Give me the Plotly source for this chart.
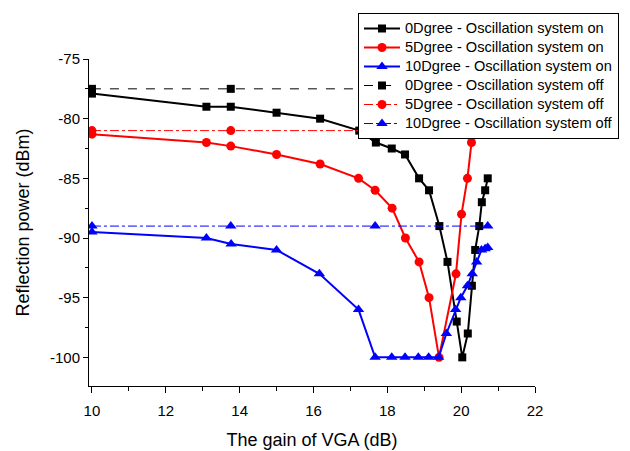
import plotly.graph_objects as go

# ---- data ----
x_on0 = [10, 13.1, 13.76, 15.0, 16.18, 17.24, 17.69, 18.12, 18.48, 18.86, 19.13, 19.41, 19.63, 19.88, 20.03, 20.18, 20.29, 20.38, 20.49, 20.56, 20.65, 20.72]
y_on0 = [-77.9, -79.0, -79.0, -79.5, -80.0, -81.0, -82.0, -82.5, -83.0, -85.0, -86.0, -89.0, -92.0, -97.0, -100.0, -98.0, -94.0, -91.0, -89.0, -87.0, -86.0, -85.0]

x_on5 = [10, 13.1, 13.76, 15.0, 16.18, 17.22, 17.67, 18.13, 18.49, 18.86, 19.13, 19.4, 19.86, 20.01, 20.17, 20.28]
y_on5 = [-81.3, -82.0, -82.3, -83.0, -83.8, -85.0, -86.0, -87.5, -90.0, -92.0, -95.0, -100.0, -93.0, -88.0, -85.0, -82.0]

x_on10 = [10, 13.1, 13.77, 15.0, 16.16, 17.22, 17.67, 18.12, 18.48, 18.84, 19.12, 19.39, 19.6, 19.85, 19.99, 20.17, 20.3, 20.42, 20.55, 20.65, 20.72]
y_on10 = [-89.5, -90.0, -90.5, -91.0, -93.0, -96.0, -100.0, -100.0, -100.0, -100.0, -100.0, -100.0, -98.0, -96.0, -95.0, -94.0, -93.0, -92.0, -91.0, -90.9, -90.8]

x_off = [10, 13.76, 17.67, 20.72]
y_off0 = [-77.5, -77.5, -77.5, -77.5]
y_off5 = [-81.0, -81.0, -81.0, -81.0]
y_off10 = [-89.0, -89.0, -89.0, -89.0]

names = [
    "0Dgree - Oscillation system on",
    "5Dgree - Oscillation system on",
    "10Dgree - Oscillation system on",
    "0Dgree - Oscillation system off",
    "5Dgree - Oscillation system off",
    "10Dgree - Oscillation system off",
]

x_tickvals = [10, 12, 14, 16, 18, 20, 22]
x_ticktext = ["10", "12", "14", "16", "18", "20", "22"]
y_tickvals = [-75, -80, -85, -90, -95, -100]
y_ticktext = ["-75", "-80", "-85", "-90", "-95", "-100"]

BLACK = "#000000"
RED = "#ff0000"
BLUE = "#0000ff"


def legend_name(s):
    return '<span style="font-size:14.6px">' + s + '</span>'


fig = go.Figure()
fig.add_trace(go.Scatter(x=x_on0, y=y_on0, name=legend_name(names[0]), mode="lines+markers",
                         line=dict(color=BLACK, width=2),
                         marker=dict(symbol="square", size=8, color=BLACK)))
fig.add_trace(go.Scatter(x=x_on5, y=y_on5, name=legend_name(names[1]), mode="lines+markers",
                         line=dict(color=RED, width=2),
                         marker=dict(symbol="circle", size=9, color=RED)))
fig.add_trace(go.Scatter(x=x_on10, y=y_on10, name=legend_name(names[2]), mode="lines+markers",
                         line=dict(color=BLUE, width=2),
                         marker=dict(symbol="triangle-up", size=10, color=BLUE)))
fig.add_trace(go.Scatter(x=x_off, y=y_off0, name=legend_name(names[3]), mode="lines+markers",
                         line=dict(color=BLACK, width=1, dash="dash"),
                         marker=dict(symbol="square", size=8, color=BLACK)))
fig.add_trace(go.Scatter(x=x_off, y=y_off5, name=legend_name(names[4]), mode="lines+markers",
                         line=dict(color=RED, width=1, dash="dashdot"),
                         marker=dict(symbol="circle", size=9, color=RED)))
fig.add_trace(go.Scatter(x=x_off, y=y_off10, name=legend_name(names[5]), mode="lines+markers",
                         line=dict(color=BLUE, width=1, dash="dashdot"),
                         marker=dict(symbol="triangle-up", size=10, color=BLUE)))

axis_font = dict(family="Liberation Sans, Arial, sans-serif", size=15, color="#000")

fig.update_layout(
    width=630, height=451,
    paper_bgcolor="white", plot_bgcolor="white",
    margin=dict(l=89, r=95, t=59, b=65, autoexpand=False),
    font=axis_font,
    showlegend=True,
    legend=dict(
        x=358 / 630, y=1 - 13 / 451, xanchor="left", yanchor="top",
        xref="container", yref="container",
        bgcolor="white", bordercolor="black", borderwidth=1,
        font=dict(family="Liberation Sans, Arial, sans-serif", size=12, color="#000"),
        itemwidth=36, tracegroupgap=0,
    ),
    xaxis=dict(
        range=[9.92, 22], showgrid=False, zeroline=False, automargin=False,
        showline=True, linecolor="black", linewidth=1,
        ticks="outside", ticklen=6, tickcolor="black", ticklabelstandoff=5,
        tickvals=x_tickvals, ticktext=x_ticktext,
        minor=dict(ticks="outside", ticklen=4, dtick=1, tick0=10, tickcolor="black"),
        title=dict(text="The gain of VGA (dB)"),
        tickfont=axis_font,
    ),
    yaxis=dict(
        range=[-102.4, -75], showgrid=False, zeroline=False, automargin=False,
        showline=True, linecolor="black", linewidth=1,
        ticks="outside", ticklen=5, tickcolor="black",
        tickvals=y_tickvals, ticktext=y_ticktext,
        minor=dict(ticks="outside", ticklen=3, dtick=2.5, tick0=-75, tickcolor="black"),
        title=dict(text="Reflection power (dBm)"),
        tickfont=axis_font,
    ),
)

fig.write_html("out.html", config={"displayModeBar": False},
               post_script="document.body.style.margin='0';")
